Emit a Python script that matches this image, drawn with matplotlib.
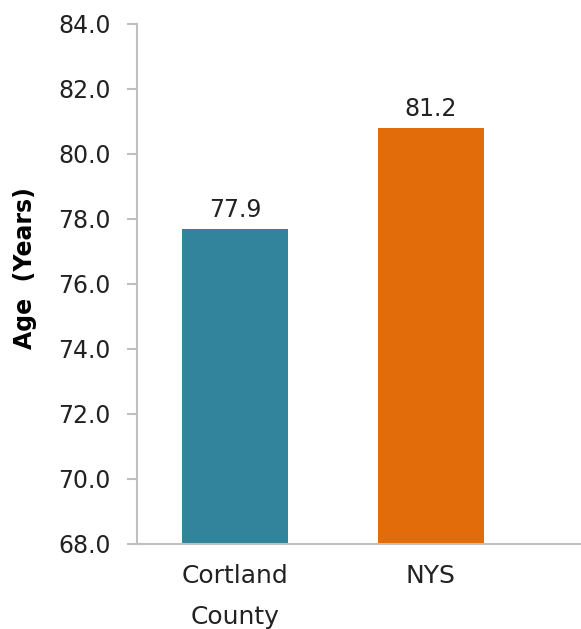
import matplotlib.pyplot as plt

# datos
categories = ["Cortland\nCounty", "NYS"]
bar_heights = [77.67, 80.8]   # altura dibujada de las barras
value_labels = ["77.9", "81.2"]
bar_colors = ["#31849B", "#E36C0A"]
y_ticks = [68, 70, 72, 74, 76, 78, 80, 82, 84]

plt.rcParams['font.family'] = ['DejaVu Sans']

fig = plt.figure(figsize=(5.81, 6.29), dpi=100)
ax = fig.add_axes([0.2358, 0.1359, 0.7622, 0.8267])

x = list(range(len(categories)))
bars = ax.bar(x, bar_heights, width=0.545, color=bar_colors, zorder=2)

ax.set_ylim(68, 84)
ax.set_xlim(-0.5, 1.76)
ax.set_yticks(y_ticks)
ax.set_yticklabels([f"{v:.1f}" for v in y_ticks], fontsize=17, color="#222222")
ax.set_xticks(x)
ax.set_xticklabels(categories, fontsize=18, color="#222222", linespacing=1.85)
ax.tick_params(axis='x', length=0, pad=15)
ax.tick_params(axis='y', length=7, width=1.5, color="#bfbfbf", pad=12)

# etiquetas de valor encima de las barras
for b, lab in zip(bars, value_labels):
    ax.annotate(lab, (b.get_x() + b.get_width() / 2, b.get_height()),
                xytext=(0, 5), textcoords='offset points',
                ha='center', va='bottom', fontsize=17, color="#222222")

ax.set_ylabel("Age  (Years)", fontsize=17, fontweight='bold')
ax.yaxis.set_label_coords(-0.226, 0.53)

for s in ['top', 'right']:
    ax.spines[s].set_visible(False)
for s in ['left', 'bottom']:
    ax.spines[s].set_color("#bfbfbf")
    ax.spines[s].set_linewidth(1.5)

fig.savefig("out.png", dpi=100)
